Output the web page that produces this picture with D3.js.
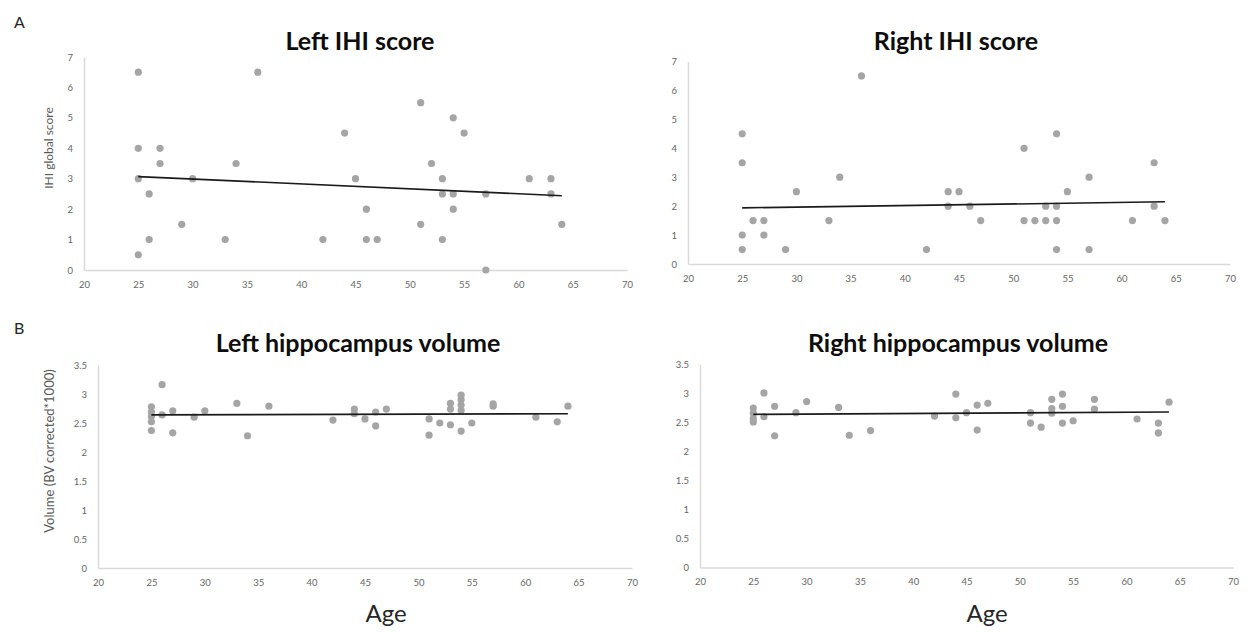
<!DOCTYPE html>
<html>
<head>
<meta charset="utf-8">
<script src="https://cdn.jsdelivr.net/npm/d3@7"></script>
<style>
  body { margin: 0; background: #fff; }
  svg { font-family: Lato, "Open Sans", sans-serif; }
</style>
</head>
<body>
<svg width="1248" height="633"></svg>
<script>
// ages of the subjects (x) and their scores / volumes (y), one pair per panel
var leftIhiAge   = [25,25,25,25,26,26,27,27,29,30,33,34,36,42,44,45,46,46,47,51,51,52,53,53,53,54,54,54,55,57,57,61,63,63,64];
var leftIhiScore = [6.5,4,3,0.5,2.5,1,4,3.5,1.5,3,1,3.5,6.5,1,4.5,3,2,1,1,5.5,1.5,3.5,3,2.5,1,5,2.5,2,4.5,2.5,0,3,3,2.5,1.5];

var rightIhiAge   = [25,25,25,25,26,27,27,29,30,33,34,36,42,44,44,45,46,47,51,51,52,53,53,54,54,54,54,55,57,57,61,63,63,64];
var rightIhiScore = [4.5,3.5,1,0.5,1.5,1.5,1,0.5,2.5,1.5,3,6.5,0.5,2.5,2,2.5,2,1.5,4,1.5,1.5,2,1.5,4.5,2,1.5,0.5,2.5,3,0.5,1.5,3.5,2,1.5];

var leftHippoAge = [25,25,25,25,25,26,26,27,27,29,30,33,34,36,42,44,44,45,46,46,47,51,51,52,53,53,53,54,54,54,54,54,55,57,57,61,63,64];
var leftHippoVol = [2.78,2.69,2.61,2.52,2.37,3.16,2.64,2.71,2.33,2.6,2.71,2.84,2.28,2.79,2.55,2.74,2.66,2.57,2.69,2.45,2.74,2.57,2.29,2.5,2.84,2.74,2.47,2.98,2.9,2.81,2.72,2.36,2.5,2.79,2.83,2.6,2.52,2.79];

var rightHippoAge = [25,25,25,25,26,26,27,27,29,30,33,34,36,42,44,44,45,46,46,47,51,51,52,53,53,53,54,54,54,55,57,57,61,63,63,64];
var rightHippoVol = [2.75,2.66,2.57,2.51,3.01,2.6,2.78,2.27,2.67,2.86,2.76,2.28,2.36,2.61,2.99,2.58,2.67,2.8,2.37,2.83,2.67,2.49,2.42,2.9,2.74,2.66,2.99,2.78,2.49,2.53,2.9,2.73,2.56,2.49,2.32,2.85];

// linear trendlines as drawn in the figure: [age, value] at both ends
var leftIhiTrend    = [[25, 3.07], [64, 2.44]];
var rightIhiTrend   = [[25, 1.94], [64, 2.15]];
var leftHippoTrend  = [[25, 2.64], [64, 2.66]];
var rightHippoTrend = [[25, 2.64], [64, 2.68]];

var titles = ["Left IHI score", "Right IHI score", "Left hippocampus volume", "Right hippocampus volume"];
var ageTicks = [20, 25, 30, 35, 40, 45, 50, 55, 60, 65, 70];
var ihiTicks = [0, 1, 2, 3, 4, 5, 6, 7];
var volTicks = [0, 0.5, 1, 1.5, 2, 2.5, 3, 3.5];

// where each plot sits in the picture
var panels = [
  { ages: leftIhiAge,    vals: leftIhiScore,  trend: leftIhiTrend,    title: titles[0], yTicks: ihiTicks,
    x0: 84,  x1: 627,  y0: 270,   y1: 57,    titleX: 360, titleY: 50 },
  { ages: rightIhiAge,   vals: rightIhiScore, trend: rightIhiTrend,   title: titles[1], yTicks: ihiTicks,
    x0: 688, x1: 1230, y0: 264,   y1: 61.5,  titleX: 956, titleY: 50 },
  { ages: leftHippoAge,  vals: leftHippoVol,  trend: leftHippoTrend,  title: titles[2], yTicks: volTicks,
    x0: 98,  x1: 632,  y0: 568,   y1: 365,   titleX: 358, titleY: 352 },
  { ages: rightHippoAge, vals: rightHippoVol, trend: rightHippoTrend, title: titles[3], yTicks: volTicks,
    x0: 700, x1: 1233, y0: 567.5, y1: 364.5, titleX: 958, titleY: 352 }
];

var svg = d3.select("svg");

panels.forEach(function(p){
  var x = d3.scaleLinear().domain([20, 70]).range([p.x0, p.x1]);
  var y = d3.scaleLinear().domain([0, d3.max(p.yTicks)]).range([p.y0, p.y1]);
  var g = svg.append("g");

  // x axis
  var xa = g.append("g")
    .attr("transform", "translate(0," + p.y0 + ")")
    .call(d3.axisBottom(x).tickValues(ageTicks).tickSize(0).tickPadding(11));
  // y axis
  var ya = g.append("g")
    .attr("transform", "translate(" + p.x0 + ",0)")
    .call(d3.axisLeft(y).tickValues(p.yTicks).tickSize(0).tickPadding(11).tickFormat(function(d){ return String(d); }));

  [xa, ya].forEach(function(a){
    a.select(".domain").attr("stroke", "#d9d9d9").attr("stroke-width", 1.5);
    a.selectAll("text").attr("fill", "#666").attr("font-size", 9.5)
      .attr("font-family", "Lato, sans-serif");
  });

  g.selectAll("circle")
    .data(p.ages)
    .enter()
    .append("circle")
    .attr("cx", function(d){ return x(d); })
    .attr("cy", function(d, i){ return y(p.vals[i]); })
    .attr("r", 3.6)
    .attr("fill", "#a5a5a5");

  g.append("path")
    .datum(p.trend)
    .attr("d", d3.line().x(function(d){ return x(d[0]); }).y(function(d){ return y(d[1]); }))
    .attr("stroke", "#1a1a1a")
    .attr("stroke-width", 1.6)
    .attr("fill", "none");

  g.append("text")
    .attr("x", p.titleX)
    .attr("y", p.titleY)
    .attr("text-anchor", "middle")
    .attr("font-size", 25)
    .attr("font-weight", "bold")
    .attr("fill", "#0d0d0d")
    .text(p.title);
});

// panel letters
svg.append("text").attr("x", 14).attr("y", 28).attr("font-size", 16).attr("fill", "#262626").text("A");
svg.append("text").attr("x", 14).attr("y", 334).attr("font-size", 16).attr("fill", "#262626").text("B");

// axis titles
svg.append("text")
  .attr("transform", "translate(53,148) rotate(-90)")
  .attr("text-anchor", "middle")
  .attr("font-size", 12)
  .attr("fill", "#595959")
  .text("IHI global score");
svg.append("text")
  .attr("transform", "translate(54,451) rotate(-90)")
  .attr("text-anchor", "middle")
  .attr("font-size", 13)
  .attr("fill", "#595959")
  .text("Volume (BV corrected*1000)");

svg.append("text").attr("x", 386).attr("y", 622).attr("text-anchor", "middle")
  .attr("font-size", 24).attr("fill", "#262626").text("Age");
svg.append("text").attr("x", 987).attr("y", 622).attr("text-anchor", "middle")
  .attr("font-size", 24).attr("fill", "#262626").text("Age");
</script>
</body>
</html>
